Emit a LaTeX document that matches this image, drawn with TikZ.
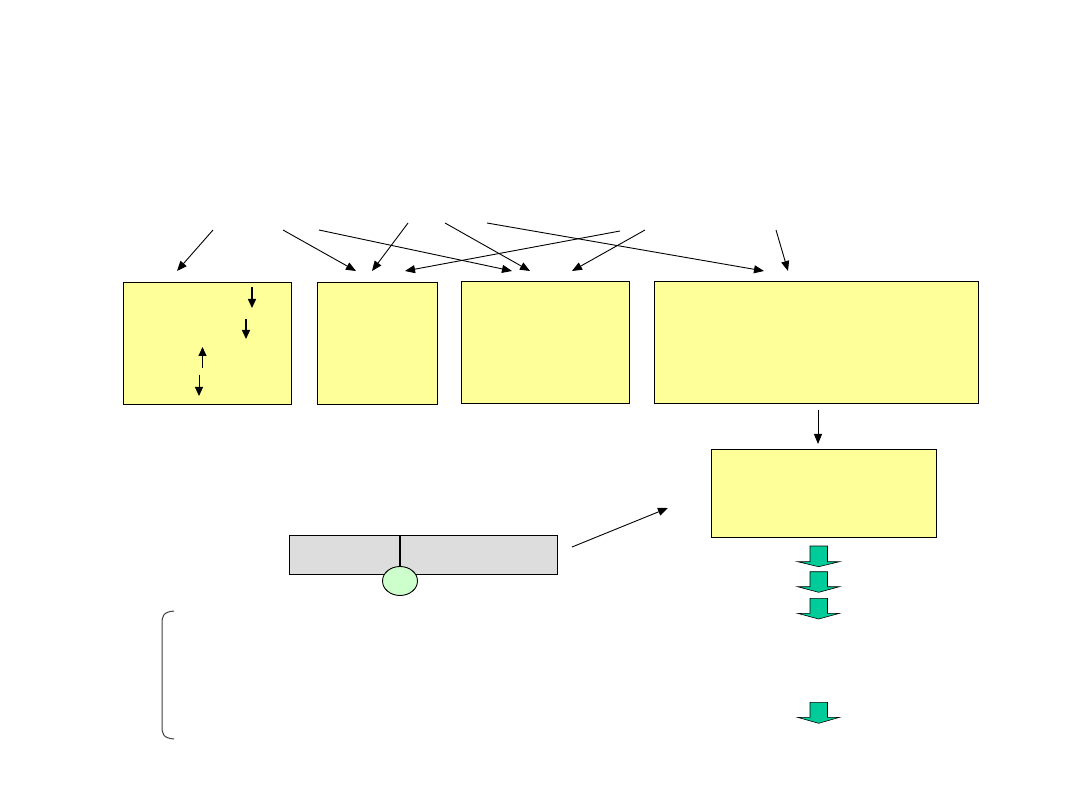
\documentclass[tikz,border=0pt]{standalone}
\usetikzlibrary{arrows.meta,shapes.geometric}
\definecolor{boxyellow}{HTML}{FFFF99}
\definecolor{blockgreen}{HTML}{00CC99}
\definecolor{palegreen}{HTML}{CCFFCC}
\definecolor{bargray}{HTML}{DDDDDD}
\tikzset{
  ybox/.style={draw=black, fill=boxyellow, line width=1pt, inner sep=0pt, anchor=north west},
  ybox thick/.style={ybox, line width=1.3pt},
  conn/.style={line width=0.9pt, -{Triangle[length=10pt,width=8pt]}},
  inarrow/.style={line width=1.5pt, -{Triangle[length=9pt,width=8pt]}},
  thinarrow/.style={line width=1pt, -{Triangle[length=9pt,width=8pt]}},
  greenarrow/.style={draw=black, fill=blockgreen, line width=0.6pt},
}
\begin{document}
\begin{tikzpicture}[x=1pt,y=-1pt]
\useasboundingbox[fill=white] (0,0) rectangle (1080,810);

% boxes
\node[ybox, minimum width=168pt, minimum height=122pt] (boxA) at (123,282) {};
\node[ybox, minimum width=120pt, minimum height=122pt] (boxB) at (317,282) {};
\node[ybox thick, minimum width=168pt, minimum height=122pt] (boxC) at (461,281) {};
\node[ybox, minimum width=324pt, minimum height=122pt] (boxD) at (654,281) {};
\node[ybox thick, minimum width=225pt, minimum height=88pt] (boxE) at (711,449) {};

% top arrows
\coordinate (s1) at (213,230); \coordinate (e1) at (177,271);
\coordinate (s2) at (283,230); \coordinate (e2) at (356,271);
\coordinate (s3) at (319,230); \coordinate (e3) at (512,271);
\coordinate (s4) at (408,223); \coordinate (e4) at (372,271);
\coordinate (s5) at (445,223); \coordinate (e5) at (530,271);
\coordinate (s6) at (620,231); \coordinate (e6) at (405,271);
\coordinate (s7) at (487,223); \coordinate (e7) at (764,271);
\coordinate (s8) at (645,230); \coordinate (e8) at (572,271);
\coordinate (s9) at (776,230); \coordinate (e9) at (788,271);
\foreach \i in {1,...,9} \draw[conn] (s\i) -- (e\i);

% arrows inside first box
\coordinate (a1s) at (252,287); \coordinate (a1e) at (252,308);
\coordinate (a2s) at (246,319); \coordinate (a2e) at (246,339);
\coordinate (a3s) at (202.5,368); \coordinate (a3e) at (202.5,347);
\coordinate (a4s) at (199,375); \coordinate (a4e) at (199,396);
\draw[inarrow] (a1s) -- (a1e);
\draw[inarrow] (a2s) -- (a2e);
\draw[thinarrow] (a3s) -- (a3e);
\draw[thinarrow] (a4s) -- (a4e);

% D -> E
\coordinate (de1) at (818,410); \coordinate (de2) at (818,444);
\draw[conn] (de1) -- (de2);

% gray bar
\node[draw=black, fill=bargray, line width=0.9pt, inner sep=0pt, anchor=north west, minimum width=268pt, minimum height=39pt] (bar) at (289,535) {};
\node[draw=black, fill=palegreen, ellipse, line width=0.9pt, minimum width=35pt, minimum height=29pt, inner sep=0pt] (ell) at (400,581) {};
\coordinate (bartop) at (400,535);
\draw[line width=1.6pt] (bartop) -- (ell.north);

% bar -> E
\coordinate (be1) at (572,547); \coordinate (be2) at (668,508);
\draw[conn] (be1) -- (be2);

% green block arrows
\foreach \t/\h/\tip in {546/561.7/566.7, 571.7/586.7/592.3, 598.3/613.3/619, 702.3/717.3/723.3} {
  \draw[greenarrow] (810,\t) -- (827.5,\t) -- (827.5,\h) -- (839.5,\h) -- (818.7,\tip) -- (797.5,\h) -- (810,\h) -- cycle;
}

% bracket
\draw[line width=1pt, draw=black!75] (174,611) .. controls (163,612) and (162,616) .. (162,624) -- (162,726) .. controls (162,734) and (163,738) .. (174,739);
\end{tikzpicture}
\end{document}
